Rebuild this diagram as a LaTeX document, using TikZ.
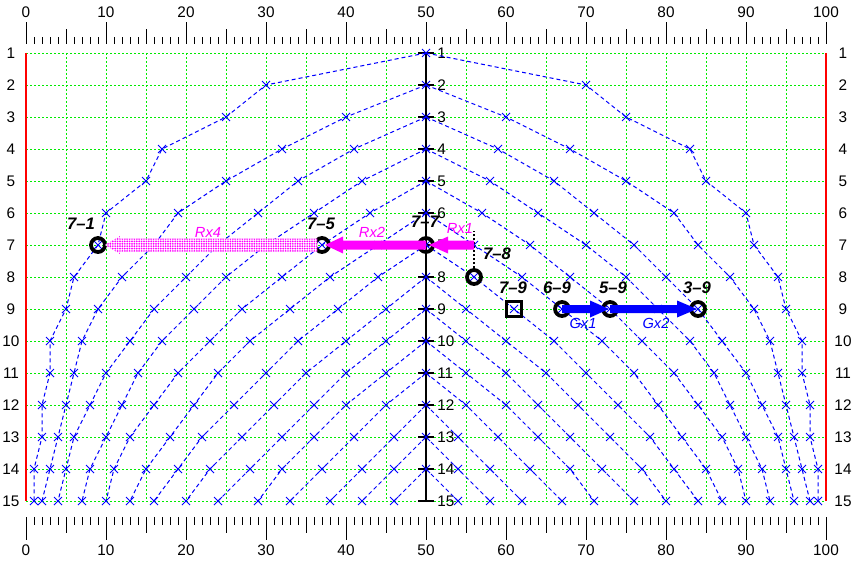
\documentclass[tikz,border=0pt]{standalone}
\usepackage{fontspec}
\setmainfont{Liberation Sans}
\usetikzlibrary{calc,patterns.meta}
\definecolor{gridgreen}{RGB}{0,235,0}
\definecolor{mag}{RGB}{255,0,255}
\definecolor{pblue}{RGB}{0,0,255}
\definecolor{pred}{RGB}{255,0,0}
\newcommand\mycrv[2]{%
  \draw[curve] (426,{21+32*(#1-1)}) \foreach \v [count=\i from #1] in {#2} { -- ({26+8*\v},{21+32*\i}) };
  \draw[curve] (426,{21+32*(#1-1)}) \foreach \v [count=\i from #1] in {#2} { -- ({826-8*\v},{21+32*\i}) };
  \foreach \v [count=\i from #1] in {#2} {
    \draw[xmk] ({26+8*\v},{21+32*\i}) +(-4,-4) -- +(4,4) +(-4,4) -- +(4,-4);
    \draw[xmk] ({826-8*\v},{21+32*\i}) +(-4,-4) -- +(4,4) +(-4,4) -- +(4,-4);
  }
  \draw[xmk] (426,{21+32*(#1-1)}) +(-4,-4) -- +(4,4) +(-4,4) -- +(4,-4);
}
\begin{document}
\begin{tikzpicture}[x=0.75pt,y=-0.75pt,
  gridline/.style={gridgreen,line width=0.65pt,dash pattern=on 1.5pt off 1.5pt},
  curve/.style={pblue,line width=0.75pt,dash pattern=on 3pt off 2.25pt},
  xmk/.style={pblue,line width=0.6pt},
  axnum/.style={font=\fontsize{11.5}{12}\selectfont,inner sep=0pt},
  ring/.style={circle,draw=black,line width=2.8pt,minimum size=10.5pt,inner sep=0pt},
  sqmark/.style={rectangle,draw=black,line width=2.6pt,minimum size=11.5pt,inner sep=0pt},
  ptlab/.style={font=\fontsize{12.5}{13}\selectfont\bfseries\itshape,inner sep=0pt},
  rlab/.style={font=\fontsize{11}{12}\selectfont\itshape,text=mag,inner sep=0pt},
  glab/.style={font=\fontsize{11}{12}\selectfont\itshape,text=pblue,inner sep=0pt}]
\useasboundingbox (0,0) rectangle (853,563);
\fill[white] (0,0) rectangle (853,563);
% grid
\foreach \r in {1,...,15} \draw[gridline] (26,{21+32*\r}) -- (826,{21+32*\r});
\foreach \v in {5,10,...,45,55,60,...,95} \draw[gridline] ({26+8*\v},53) -- ({26+8*\v},501);
\draw[pred,line width=1.9pt] (26,53) -- (26,501);
\draw[pred,line width=1.9pt] (826,53) -- (826,501);
% top and bottom scales
\foreach \v in {0,...,100} {
  \pgfmathtruncatemacro\m{mod(\v,10)==0 ? 22 : (mod(\v,5)==0 ? 15 : 7)}
  \draw[line width=0.75pt] ({26+8*\v},44) -- ({26+8*\v},{44-\m});
  \draw[line width=0.75pt] ({26+8*\v},517) -- ({26+8*\v},{517+\m+1});
}
\foreach \v in {0,10,...,100} {
  \node[axnum] (top\v) at ({26+8*\v},12) {\v};
  \node[axnum] (bot\v) at ({26+8*\v},550) {\v};
}
\foreach \r in {1,...,15} {
  \node[axnum] (lft\r) at (11,{21+32*\r}) {\r};
  \node[axnum] (rgt\r) at (843,{21+32*\r}) {\r};
  \node[axnum,anchor=west] (mid\r) at (437,{21+32*\r}) {\r};
  \draw[line width=1.3pt] (418,{21+32*\r}) -- (434,{21+32*\r});
}
\draw[line width=1.3pt] (426,53) -- (426,501);
% curves
\mycrv{2}{30,25,17,15,10,9,6,5,3,3,2,2,1,1}
\mycrv{3}{40,32,25,19,16,12,9,7,6,5,4,3,2}
\mycrv{4}{41,34,29,24,20,16,13,10,8,6,5,4}
\mycrv{5}{42,36,30,25,21,17,14,12,10,8,7}
\mycrv{6}{43,37,32,27,23,19,16,13,11,10}
\mycrv{7}{44,38,33,28,24,21,18,15,13}
\mycrv{8}{44,39,34,30,26,22,19,16}
\mycrv{9}{45,40,35,31,27,23,20}
\mycrv{10}{45,40,36,32,28,24}
\mycrv{11}{45,40,36,32,29}
\mycrv{12}{45,41,37,33}
\mycrv{13}{46,42,38}
\mycrv{14}{46,42}
\mycrv{15}{46}
% marked points
\node[ring] (n71) at (98,245) {};
\node[ring] (n75) at (322,245) {};
\node[ring] (n77) at (426,245) {};
\node[ring] (n78) at (474,277) {};
\node[sqmark] (n79) at (514,309) {};
\node[ring] (n69) at (562,309) {};
\node[ring] (n59) at (610,309) {};
\node[ring] (n39) at (698,309) {};
\coordinate (r1s) at (474,245);
\coordinate (r1top) at (474,231);
% dotted link
\draw[black,line width=1.5pt,dash pattern=on 1.5pt off 1.5pt] (n78.north) -- (r1top);
% Rx4 (stippled)
\path[fill=white] ($(n71)+(7,0)$) -- ($(n71)+(22,-9)$) -- ($(n71)+(22,-6.5)$) -- ($(n75)+(-5,-6.5)$) -- ($(n75)+(-5,6.5)$) -- ($(n71)+(22,6.5)$) -- ($(n71)+(22,9)$) -- cycle;
\path[pattern={Dots[distance=1.8pt,radius=0.72pt]},pattern color=mag] ($(n71)+(7,0)$) -- ($(n71)+(22,-9)$) -- ($(n71)+(22,-6.5)$) -- ($(n75)+(-5,-6.5)$) -- ($(n75)+(-5,6.5)$) -- ($(n71)+(22,6.5)$) -- ($(n71)+(22,9)$) -- cycle;
% Rx2
\fill[mag] ($(n75)+(3,0)$) -- ($(n75)+(21,-8.5)$) -- ($(n75)+(21,-4.5)$) -- ($(n77)+(0,-4.5)$) -- ($(n77)+(0,4.5)$) -- ($(n75)+(21,4.5)$) -- ($(n75)+(21,8.5)$) -- cycle;
% Rx1
\fill[mag] ($(n77)+(3,0)$) -- ($(n77)+(22,-8.5)$) -- ($(n77)+(22,-4.5)$) -- ($(r1s)+(0,-4.5)$) -- ($(r1s)+(0,4.5)$) -- ($(n77)+(22,4.5)$) -- ($(n77)+(22,8.5)$) -- cycle;
% Gx1
\fill[pblue] ($(n59)+(-1,0)$) -- ($(n59)+(-20,-8.5)$) -- ($(n59)+(-20,-4)$) -- ($(n69)+(0,-4)$) -- ($(n69)+(0,4)$) -- ($(n59)+(-20,4)$) -- ($(n59)+(-20,8.5)$) -- cycle;
% Gx2
\fill[pblue] ($(n39)+(-1,0)$) -- ($(n39)+(-21,-8.5)$) -- ($(n39)+(-21,-4)$) -- ($(n59)+(0,-4)$) -- ($(n59)+(0,4)$) -- ($(n39)+(-21,4)$) -- ($(n39)+(-21,8.5)$) -- cycle;
% labels
\node[ptlab] (l71) at (81,224) {7–1};
\node[ptlab] (l75) at (321,224) {7–5};
\node[ptlab] (l77) at (425,222) {7–7};
\node[ptlab] (l78) at (497,254) {7–8};
\node[ptlab] (l79) at (513,288) {7–9};
\node[ptlab] (l69) at (557,288) {6–9};
\node[ptlab] (l59) at (613,288) {5–9};
\node[ptlab] (l39) at (697,288) {3–9};
\node[rlab] (lrx4) at (208,232) {Rx4};
\node[rlab] (lrx2) at (372,232) {Rx2};
\node[rlab] (lrx1) at (460,228) {Rx1};
\node[glab] (lgx1) at (583,323) {Gx1};
\node[glab] (lgx2) at (656,323) {Gx2};
\end{tikzpicture}
\end{document}
